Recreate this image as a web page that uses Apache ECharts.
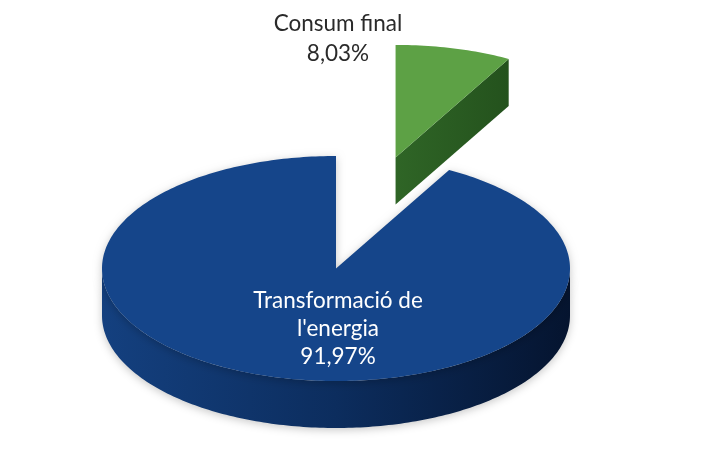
<!DOCTYPE html>
<html>
<head>
<meta charset="utf-8">
<script src="https://cdn.jsdelivr.net/npm/echarts@6/dist/echarts.min.js"></script>
<style>html,body{margin:0;padding:0;background:#fff}#c{width:710px;height:449px}</style>
</head>
<body>
<div id="c"></div>
<script>
// ---- data ----
const categories = ['Consum final', "Transformació de\nl'energia"];
const values = [8.03, 91.97];
const explode = [1.02, 0];

// ---- styles / layout ----
const topColors = ['#5da145', '#15458a'];
const sideColors = [['#2f6526', '#24521d'], ['#14407f', '#0c2d5e', '#05142f']];
const labelColors = ['#2a2a2a', '#ffffff'];
const geom = { cx: 336, cy: 268.5, a: 234, b: 112.5, h: 47 };
const labelOffset = [[2, -230], [2, 60]];
const lineHeights = [30, 28];

function fmt(v) { return v.toFixed(2).replace('.', ',') + '%'; }

const chart = echarts.init(document.getElementById('c'), null, { renderer: 'canvas' });
const total = values.reduce((s, v) => s + v, 0);

function renderItem(params, api) {
  const i = params.dataIndex;
  const { cx, cy, a, b, h } = geom;
  let acc = 0;
  for (let j = 0; j < i; j++) acc += values[j];
  const st = acc / total * 360;
  const en = (acc + api.value(1)) / total * 360;
  const mid = (st + en) / 2;
  const mr = mid * Math.PI / 180;
  const ox = explode[i] * a * Math.sin(mr);
  const oy = -explode[i] * b * Math.cos(mr);
  const P = (th, dz) => {
    const r = th * Math.PI / 180;
    return [cx + ox + a * Math.sin(r), cy + oy - b * Math.cos(r) + (dz || 0)];
  };
  const apex = [cx + ox, cy + oy];
  const arc = (from, to, dz) => {
    const pts = [];
    const n = Math.max(2, Math.ceil(Math.abs(to - from)));
    for (let k = 0; k <= n; k++) pts.push(P(from + (to - from) * k / n, dz));
    return pts;
  };
  const children = [];
  const sc = sideColors[i];
  const stops = sc.map((c, k) => ({ offset: k / (sc.length - 1), color: c }));
  const shadow = i === 1 ? { shadowBlur: 8, shadowColor: 'rgba(0,0,0,0.22)', shadowOffsetY: 2 } : {};
  // outer side (visible front part)
  const vs = Math.max(st, 90), ve = Math.min(en, 270);
  if (ve > vs) {
    const pts = arc(vs, ve, 0).concat(arc(ve, vs, h));
    children.push({
      type: 'polygon', shape: { points: pts },
      style: Object.assign({ fill: new echarts.graphic.LinearGradient(0, 0, 1, 0, stops) }, shadow)
    });
  }
  // radial faces
  const faceVisible = (n) => Math.cos((n - 180) * Math.PI / 180) > 0.01;
  [[en, en + 90], [st, st - 90]].forEach(([th, n]) => {
    if (faceVisible(n)) {
      const p = P(th, 0);
      children.push({
        type: 'polygon',
        shape: { points: [apex, p, [p[0], p[1] + h], [apex[0], apex[1] + h]] },
        style: { fill: new echarts.graphic.LinearGradient(0, 0, 1, 0, stops) }
      });
    }
  });
  // top face
  children.push({
    type: 'polygon', shape: { points: [apex].concat(arc(st, en, 0)) },
    style: Object.assign({ fill: topColors[i] }, shadow)
  });
  // label
  children.push({
    type: 'text',
    x: cx + labelOffset[i][0], y: cy + labelOffset[i][1],
    style: {
      text: categories[i] + '\n' + fmt(api.value(1)),
      fill: labelColors[i], font: '22.5px Lato', lineHeight: lineHeights[i],
      align: 'center', verticalAlign: 'middle'
    }
  });
  return { type: 'group', children };
}

chart.setOption({
  backgroundColor: '#ffffff',
  animation: false,
  series: [{
    type: 'custom',
    coordinateSystem: 'none',
    renderItem,
    data: values.map((v, i) => [i, v])
  }]
});
</script>
</body>
</html>
